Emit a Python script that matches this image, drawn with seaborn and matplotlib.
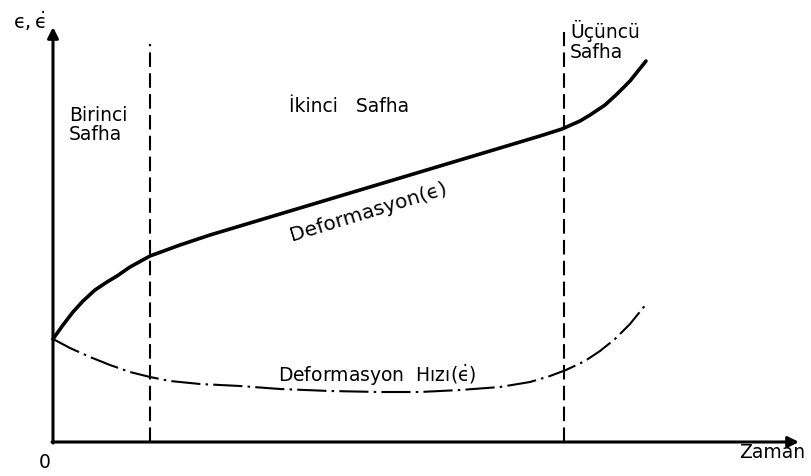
import numpy as np
import pandas as pd
import seaborn as sns
import matplotlib
matplotlib.use("Agg")
import matplotlib.pyplot as plt

# Creep curve: strain and strain rate against time (arbitrary units)
strain_time = [0, 10, 20, 30, 42, 54, 64, 77, 97, 127, 157, 207, 247, 297, 347,
               397, 447, 487, 509, 527, 537, 552, 564, 577, 593]
strain = [103, 117, 130, 141, 152, 160, 166, 175, 186, 197, 207, 222, 234, 249,
          264, 279, 294, 306, 313, 321, 327, 337, 348, 361, 381]

rate_time = [0, 17, 37, 57, 77, 97, 117, 147, 187, 227, 277, 327, 367, 407, 447,
             477, 497, 513, 532, 547, 562, 577, 594]
rate = [103, 94, 85, 77, 70, 65, 61, 58, 56, 53, 51, 50, 50, 52, 55, 60, 66, 72,
        81, 91, 103, 118, 139]

# Boundaries between the three creep stages
stage_bounds = [97, 511]
stage_tops = [398, 410]

stage_labels = ["Birinci\nSafha", "İkinci   Safha", "Üçüncü\nSafha"]
strain_label = "Deformasyon(ϵ)"
rate_label = r"Deformasyon  Hızı($\dot{\mathrm{ϵ}}$)"
x_label = "Zaman"
y_label = r"$\mathrm{ϵ},\dot{\mathrm{ϵ}}$"
origin_label = "0"

sns.set_style("white")
plt.rcParams["font.family"] = ["DejaVu Sans"]
plt.rcParams["mathtext.fontset"] = "dejavusans"
plt.rcParams["text.color"] = "black"

fig = plt.figure(figsize=(8.11, 4.77), dpi=100)
ax = fig.add_axes([0, 0, 1, 1])
ax.set_xlim(-53, 758)
ax.set_ylim(-34, 443)

df_strain = pd.DataFrame({"t": strain_time, "v": strain})
df_rate = pd.DataFrame({"t": rate_time, "v": rate})

sns.lineplot(data=df_strain, x="t", y="v", ax=ax, color="black", lw=2.6,
             sort=False, estimator=None, solid_capstyle="round")
sns.lineplot(data=df_rate, x="t", y="v", ax=ax, color="black", lw=1.5,
             sort=False, estimator=None,
             linestyle=(0, (14, 2.5, 1.2, 2.5)))
ax.axis("off")

# Coordinate axes with arrow heads
arrow = dict(arrowstyle="-|>", lw=2.2, color="black", mutation_scale=16,
             shrinkA=0, shrinkB=0)
ax.annotate("", xy=(0, 415), xytext=(0, -1), arrowprops=arrow)
ax.annotate("", xy=(746, 0), xytext=(-1, 0), arrowprops=arrow)

# Stage boundaries
for xb, top in zip(stage_bounds, stage_tops):
    ax.plot([xb, xb], [0, top], color="black", lw=1.5, linestyle=(0, (7, 3)))

fs = 13.5
ax.text(16, 318, stage_labels[0], fontsize=fs, ha="left", va="center",
        linespacing=1.05)
ax.text(236, 336, stage_labels[1], fontsize=fs, ha="left", va="center")
ax.text(517, 402, stage_labels[2], fontsize=fs, ha="left", va="center",
        linespacing=1.05)

ax.text(315, 231, strain_label, fontsize=14.5, ha="center", va="center",
        rotation=17, rotation_mode="anchor")
ax.text(324, 68, rate_label, fontsize=fs, ha="center", va="center")

ax.text(-23, 422, y_label, fontsize=14, ha="center", va="center")
ax.text(-8, -20, origin_label, fontsize=fs, ha="center", va="center")
ax.text(752, -10, x_label, fontsize=fs, ha="right", va="center")

fig.savefig("out.png", dpi=100)
